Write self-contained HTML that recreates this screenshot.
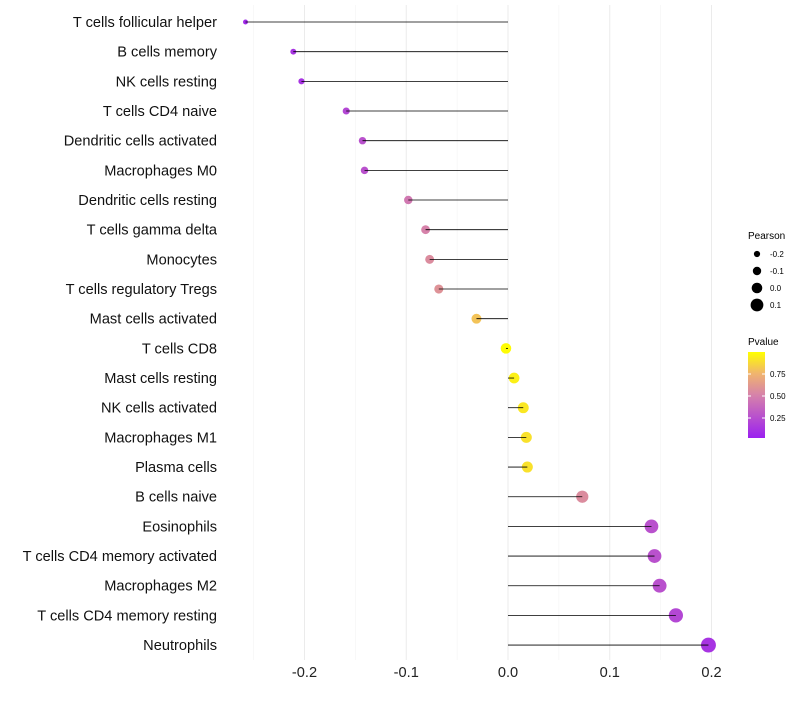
<!DOCTYPE html>
<html><head><meta charset="utf-8"><style>
body{margin:0;background:#fff;font-family:"Liberation Sans",sans-serif}
</style></head><body>
<svg id="chart" width="800" height="700" xmlns="http://www.w3.org/2000/svg" font-family="Liberation Sans, sans-serif"></svg>
<script>
const categories=["T cells follicular helper","B cells memory","NK cells resting","T cells CD4 naive","Dendritic cells activated","Macrophages M0","Dendritic cells resting","T cells gamma delta","Monocytes","T cells regulatory  Tregs ","Mast cells activated","T cells CD8","Mast cells resting","NK cells activated","Macrophages M1","Plasma cells","B cells naive","Eosinophils","T cells CD4 memory activated","Macrophages M2","T cells CD4 memory resting","Neutrophils"];
const pearson=[-0.258,-0.211,-0.203,-0.159,-0.143,-0.141,-0.098,-0.081,-0.077,-0.068,-0.031,-0.002,0.006,0.015,0.018,0.019,0.073,0.141,0.144,0.149,0.165,0.197];
const pvalue=[0.05,0.1,0.1,0.2,0.25,0.25,0.45,0.5,0.55,0.58,0.8,0.99,0.95,0.92,0.9,0.9,0.55,0.25,0.25,0.25,0.2,0.1];
const xTicks=[-0.2,-0.1,0.0,0.1,0.2];
const xTickLabels=["-0.2","-0.1","0.0","0.1","0.2"];
const minorTicks=[-0.25,-0.15,-0.05,0.05,0.15];
const legendSizes=[-0.2,-0.1,0.0,0.1];
const legendP=[0.25,0.50,0.75];

const svg=document.getElementById('chart');
const NS="http://www.w3.org/2000/svg";
const x=v=>508+v*1017.5;
const y=i=>22+i*29.67;
const r=v=>5.3+v*11;
const stops=[[0,[155,32,240]],[0.5,[214,130,170]],[0.75,[240,180,110]],[1,[255,255,0]]];
function col(p){for(let i=1;i<stops.length;i++){if(p<=stops[i][0]){const a=stops[i-1],b=stops[i],t=(p-a[0])/(b[0]-a[0]);return 'rgb('+a[1].map((c,k)=>Math.round(c+(b[1][k]-c)*t)).join(',')+')';}}return 'rgb(255,255,0)';}
function el(tag,attrs,parent){const e=document.createElementNS(NS,tag);for(const k in attrs)e.setAttribute(k,attrs[k]);(parent||svg).appendChild(e);return e;}

minorTicks.forEach(v=>{const l=el('line',{x1:x(v),x2:x(v),y1:5,y2:660,stroke:'#f3f3f3','stroke-width':0.6});

});
xTicks.forEach((v,i)=>{const l=el('line',{x1:x(v),x2:x(v),y1:5,y2:660,stroke:'#ebebeb','stroke-width':1});


const t=el('text',{x:x(v),y:677,'text-anchor':'middle','font-size':14.6,fill:'#222'});t.textContent=xTickLabels[i];

});

categories.forEach((c,i)=>{
const t=el('text',{x:217,y:y(i)+5,'text-anchor':'end','font-size':14.6,fill:'#111'});t.textContent=c;


const d=el('circle',{cx:x(pearson[i]),cy:y(i),r:r(pearson[i]),fill:col(pvalue[i])});


const l=el('line',{x1:x(0),x2:x(pearson[i]),y1:y(i),y2:y(i),stroke:'#000','stroke-width':0.8});


});

const lt=el('text',{x:748,y:239,'font-size':10,fill:'#000'});lt.textContent='Pearson';


legendSizes.forEach((v,i)=>{const cy=254+i*17;
const c=el('circle',{cx:757,cy:cy,r:r(v),fill:'#000'});


const t=el('text',{x:770,y:cy+3,'font-size':8,fill:'#000'});t.textContent=v.toFixed(1);

});
const pt=el('text',{x:748,y:345,'font-size':10,fill:'#000'});pt.textContent='Pvalue';


const defs=el('defs',{});const g=el('linearGradient',{id:'pg',x1:0,y1:1,x2:0,y2:0},defs);
stops.forEach(s=>el('stop',{offset:s[0],'stop-color':'rgb('+s[1].join(',')+')'},g));
const bar=el('rect',{x:748,y:352,width:17,height:86,fill:'url(#pg)'});


legendP.forEach(p=>{const yy=352+(1-p)*88;
el('line',{x1:748,x2:751,y1:yy,y2:yy,stroke:'#fff'});el('line',{x1:762,x2:765,y1:yy,y2:yy,stroke:'#fff'});
const t=el('text',{x:770,y:yy+3,'font-size':8,fill:'#000'});t.textContent=p.toFixed(2);

});
</script>
</body></html>
